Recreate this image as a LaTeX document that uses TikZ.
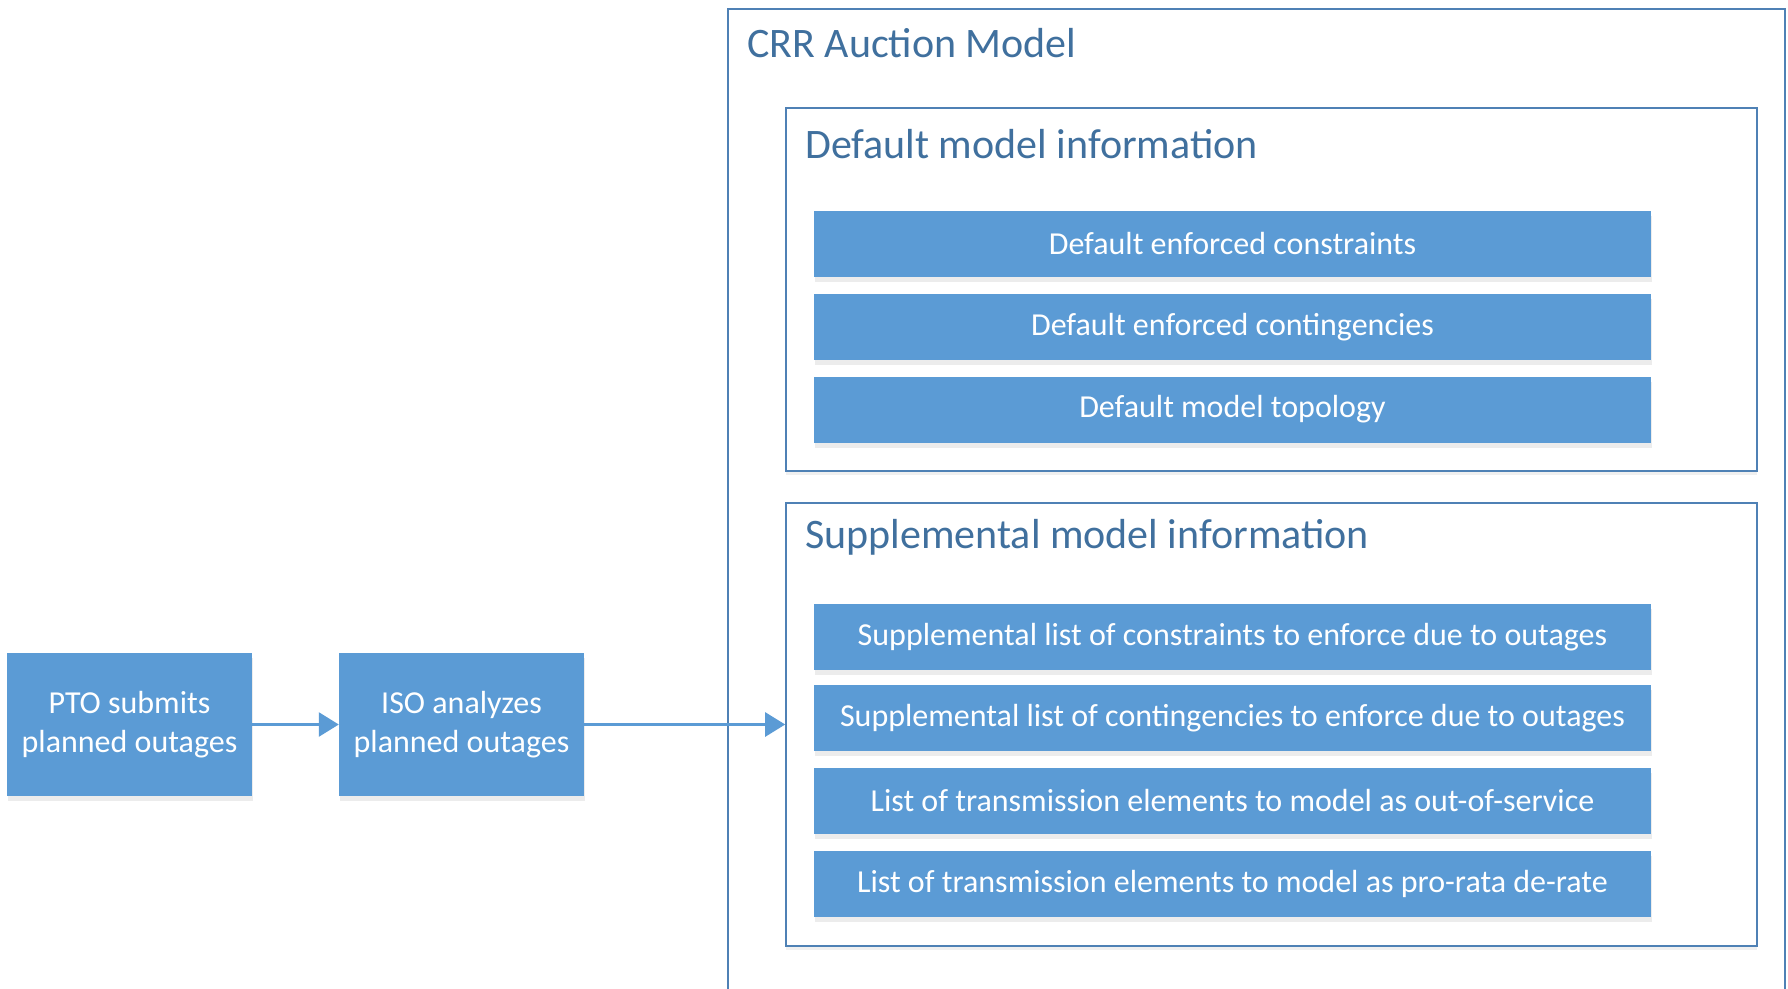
\documentclass[tikz,border=0pt]{standalone}
\usepackage{xcolor}
\usepackage{fontspec}
\setmainfont{Carlito}
\usepackage{tikz}
\usetikzlibrary{arrows,arrows.meta,shapes,positioning,shadows,calc}

\definecolor{barblue}{HTML}{5B9BD5}
\definecolor{frameblue}{HTML}{4F81B5}
\definecolor{titleblue}{HTML}{40709E}

\tikzset{
  bar/.style={rectangle, fill=barblue, draw=none, text=white, minimum width=837pt, minimum height=66pt,
    inner sep=0pt, font=\fontsize{32}{36}\selectfont,
    drop shadow={opacity=0.15, shadow xshift=1pt, shadow yshift=-5pt}},
  stepbox/.style={rectangle, fill=barblue, draw=none, text=white, minimum width=245pt, minimum height=143pt,
    inner sep=0pt, align=center, font=\fontsize{32}{39}\selectfont,
    drop shadow={opacity=0.15, shadow xshift=1pt, shadow yshift=-5pt}},
  group/.style={rectangle, draw=frameblue, line width=1.6pt, fill=white, minimum width=971pt, inner sep=0pt,
    drop shadow={opacity=0.12, shadow xshift=0pt, shadow yshift=-4pt}},
  grouptitle/.style={anchor=west, text=titleblue, inner sep=0pt, font=\fontsize{42}{48}\selectfont},
  flow/.style={draw=barblue, line width=2.6pt, -{Triangle[length=20pt,width=24pt]}}
}

\begin{document}
\begin{tikzpicture}[x=1pt, y=-1pt]
\useasboundingbox (0,0) rectangle (1788,988);
\clip (0,0) rectangle (1788,988);

% auction model frame, open at the bottom
\node[rectangle, draw=frameblue, line width=1.6pt, minimum width=1057pt, minimum height=1010pt, inner sep=0pt,
  anchor=north west] (crr) at (727,8) {};
\node[grouptitle] (crrtitle) at (747,43) {CRR Auction Model};

% default information group
\node[group, minimum height=363pt] (defgrp) at (1271.5,289.5) {};
\node[grouptitle] (deftitle) at (805,144) {Default model information};
\node[bar] (defcons) at (1232.5,244) {Default enforced constraints};
\node[bar] (defcont) at (1232.5,327) {Default enforced contingencies};
\node[bar] (deftopo) at (1232.5,409.5) {Default model topology};

% supplemental information group
\node[group, minimum height=443pt] (supgrp) at (1271.5,724.5) {};
\node[grouptitle] (suptitle) at (805,537) {Supplemental model information};
\node[bar] (supcons) at (1232.5,637) {Supplemental list of constraints to enforce due to outages};
\node[bar] (supcont) at (1232.5,718) {Supplemental list of contingencies to enforce due to outages};
\node[bar] (outserv) at (1232.5,800.5) {List of transmission elements to model as out-of-service};
\node[bar] (derate) at (1232.5,884) {List of transmission elements to model as pro-rata de-rate};

% outage steps
\node[stepbox] (pto) at (129.5,724.5) {PTO submits\\planned outages};
\node[stepbox] (iso) at (461.5,724.5) {ISO analyzes\\planned outages};

% Arrows
\draw[flow] (pto) -- (iso);
\draw[flow] (iso) -- (supgrp.west);

\end{tikzpicture}
\end{document}
